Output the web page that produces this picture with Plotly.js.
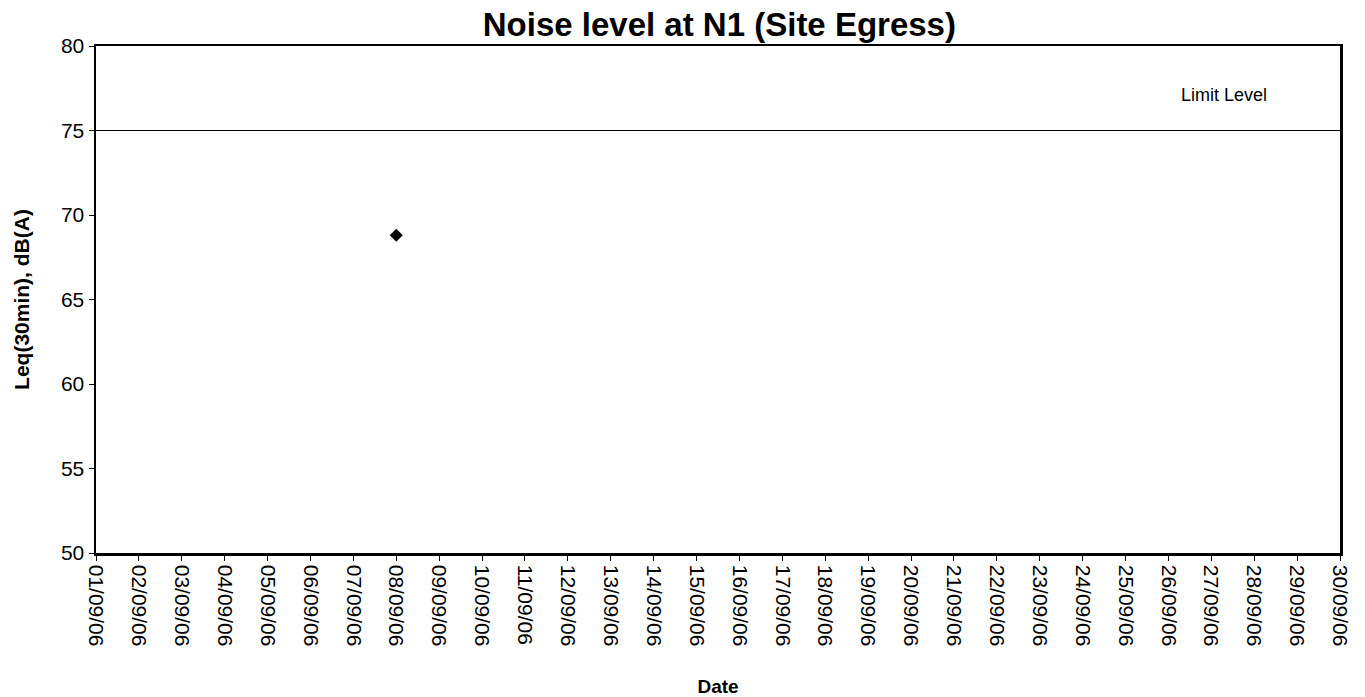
<!DOCTYPE html>
<html>
<head>
<meta charset="utf-8">
<script src="https://cdn.plot.ly/plotly-3.0.1.min.js"></script>
<style>html,body{margin:0;padding:0;background:#fff;}#chart{width:1365px;height:697px;}</style>
</head>
<body>
<div id="chart"></div>
<script>
var dates = [];
for (var d = 1; d <= 30; d++) dates.push('2006-09-' + (d < 10 ? '0' + d : d));
var tickLabels = dates.map(function (s) { return s.slice(8, 10) + '/09/06'; });
var measDates = ['2006-09-08'];
var measValues = [68.8];
var limitDates = ['2006-09-01', '2006-09-30'];
var limitValues = [75, 75];

var font = 'Liberation Sans, Arial, sans-serif';
var data = [
  {x: limitDates, y: limitValues, mode: 'lines', line: {color: '#000', width: 1.2}, hoverinfo: 'skip', showlegend: false},
  {x: measDates, y: measValues, mode: 'markers', marker: {symbol: 'diamond', color: '#000', size: 10}, showlegend: false}
];
var layout = {
  width: 1365, height: 697,
  margin: {l: 96, r: 25, t: 46, b: 144},
  paper_bgcolor: '#fff', plot_bgcolor: '#fff',
  font: {family: font, color: '#000', size: 20},
  title: {text: '<b>Noise level at N1 (Site Egress)</b>', font: {family: font, size: 33, color: '#000'}, x: 0.527, xanchor: 'center', y: 0.965, yanchor: 'middle'},
  xaxis: {
    type: 'date', range: ['2006-09-01', '2006-09-30'],
    tickvals: dates, ticktext: tickLabels, tickangle: 90,
    ticks: 'outside', ticklen: 5, tickwidth: 1, tickcolor: '#000',
    showline: true, linecolor: '#000', linewidth: 2.5, mirror: true,
    showgrid: false, zeroline: false,
    tickfont: {family: font, size: 21, color: '#000'},
    title: {text: '<b>Date</b>', font: {family: font, size: 19, color: '#000'}, standoff: 36}
  },
  yaxis: {
    range: [50, 80], dtick: 5, tick0: 50,
    ticks: 'outside', ticklen: 5, tickwidth: 1, tickcolor: '#000',
    showline: true, linecolor: '#000', linewidth: 2.5, mirror: true,
    showgrid: false, zeroline: false,
    tickfont: {family: font, size: 21, color: '#000'},
    title: {text: '<b>Leq(30min), dB(A)</b>', font: {family: font, size: 21, color: '#000'}, standoff: 26}
  },
  annotations: [
    {x: 0.907, y: 77.1, xref: 'paper', yref: 'y', xanchor: 'center', yanchor: 'middle', text: 'Limit Level', showarrow: false, font: {family: font, size: 18, color: '#000'}}
  ]
};
Plotly.newPlot('chart', data, layout, {displayModeBar: false, staticPlot: true});
</script>
</body>
</html>
